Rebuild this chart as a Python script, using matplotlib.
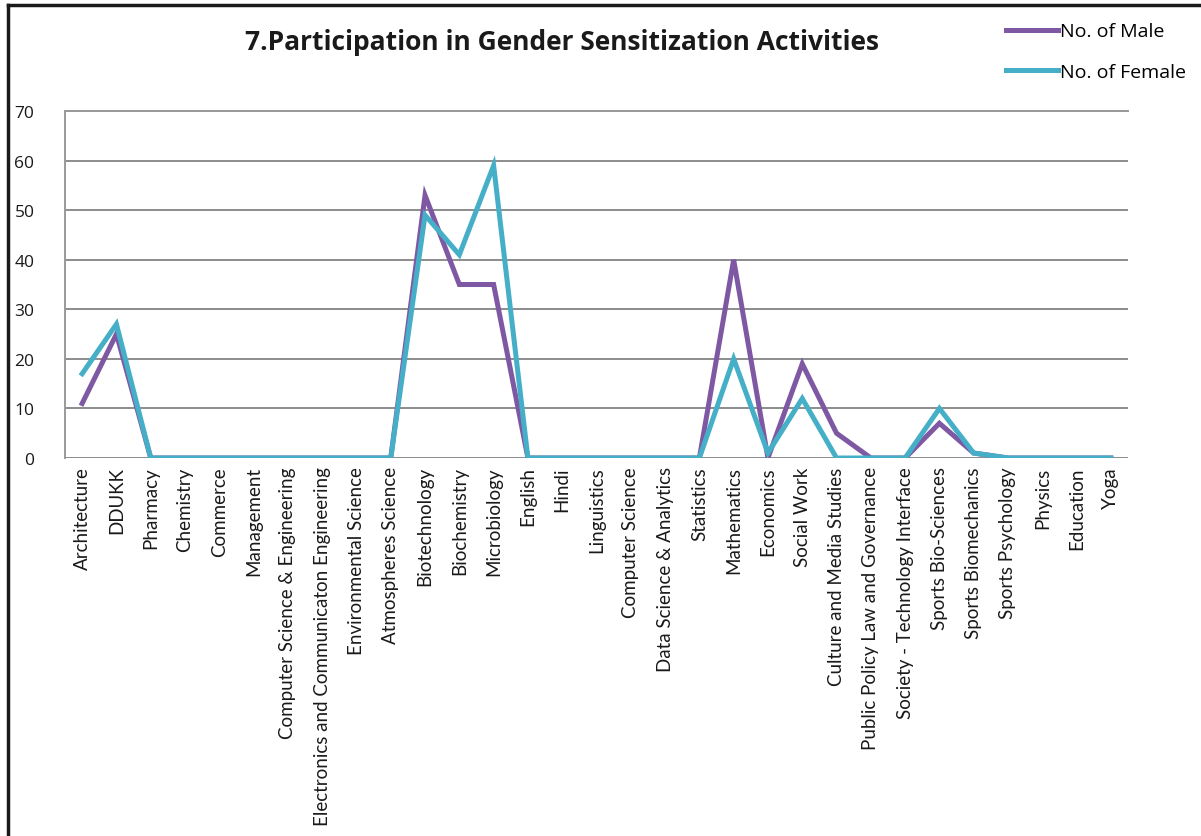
import numpy as np
import matplotlib
matplotlib.use("Agg")
import matplotlib.pyplot as plt
from matplotlib.lines import Line2D

# data
departments = ["Architecture", "DDUKK", "Pharmacy", "Chemistry", "Commerce", "Management",
               "Computer Science & Engineering", "Electronics and Communicaton Engineering",
               "Environmental Science", "Atmospheres Science", "Biotechnology", "Biochemistry",
               "Microbiology", "English", "Hindi", "Linguistics", "Computer Science",
               "Data Science & Analytics", "Statistics", "Mathematics", "Economics", "Social Work",
               "Culture and Media Studies", "Public Policy Law and Governance",
               "Society - Technology Interface", "Sports Bio-Sciences", "Sports Biomechanics",
               "Sports Psychology", "Physics", "Education", "Yoga"]
male = [11, 25, 0, 0, 0, 0, 0, 0, 0, 0, 53, 35, 35, 0, 0, 0, 0, 0, 0, 40, 0, 19, 5, 0, 0, 7, 1, 0, 0, 0, 0]
female = [17, 27, 0, 0, 0, 0, 0, 0, 0, 0, 49, 41, 59, 0, 0, 0, 0, 0, 0, 20, 1, 12, 0, 0, 0, 10, 1, 0, 0, 0, 0]
yticks = [0, 10, 20, 30, 40, 50, 60, 70]

plt.rcParams['font.family'] = ['Lato', 'DejaVu Sans']

fig = plt.figure(figsize=(12.01, 8.37), dpi=100)
ax = fig.add_axes([65 / 1201, 1 - 459 / 837, (1128 - 65) / 1201, (459 - 112) / 837])

x = np.arange(len(departments))
ax.plot(x, male, color='#7F58A3', lw=3.6, label='No. of Male', solid_joinstyle='miter')
ax.plot(x, female, color='#45AFC8', lw=3.6, label='No. of Female', solid_joinstyle='miter')

ax.set_xlim(-0.5, len(departments) - 0.5)
ax.set_ylim(0, 70)
ax.set_yticks(yticks)
ax.yaxis.grid(True, color='#8c8c8c', lw=1.4)
ax.set_axisbelow(True)
for s in ['right', 'bottom']:
    ax.spines[s].set_visible(False)
ax.spines['left'].set_color('#9a9a9a')
ax.spines['left'].set_linewidth(1.4)
ax.spines['top'].set_color('#9a9a9a')
ax.spines['top'].set_linewidth(1.4)

ax.set_xticks(x)
ax.set_xticklabels(departments, rotation=90, fontsize=13.5, color='#1a1a1a')
ax.tick_params(axis='x', length=0, pad=6)
ax.tick_params(axis='y', length=0, pad=22, labelsize=12.5, labelcolor='#1a1a1a')
for lab in ax.get_yticklabels():
    lab.set_family(['Open Sans', 'DejaVu Sans'])

fig.text(0.468, 1 - 42 / 837, "7.Participation in Gender Sensitization Activities",
         ha='center', va='center', fontsize=19, fontweight='bold', color='#1a1a1a',
         family=['Open Sans', 'DejaVu Sans'])

fig.legend(loc='upper left', bbox_to_anchor=(988 / 1201, 1 - 6 / 837), frameon=False,
           prop={'family': ['Open Sans', 'DejaVu Sans'], 'size': 14},
           handlelength=2.7, handletextpad=0.1, labelspacing=1.15)

# black frame on top and left like the screenshot
fig.add_artist(Line2D([8 / 1201, 1], [1 - 6 / 837, 1 - 6 / 837], color='#1a1a1a', lw=2.5,
                      transform=fig.transFigure))
fig.add_artist(Line2D([8 / 1201, 8 / 1201], [0, 1 - 6 / 837], color='#1a1a1a', lw=2.5,
                      transform=fig.transFigure))

fig.savefig('out.png', dpi=100)
